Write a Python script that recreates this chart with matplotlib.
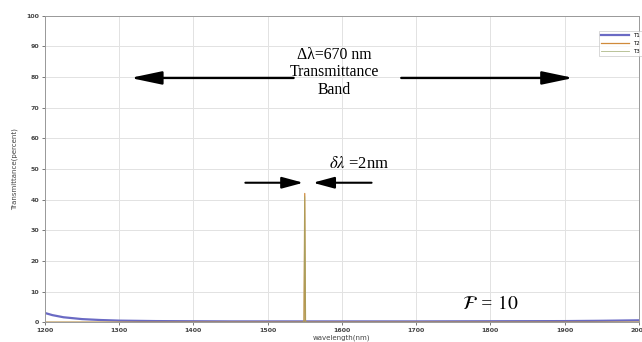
import numpy as np
import matplotlib.pyplot as plt

# transmittance of the filter (percent) vs wavelength (nm)
wl_base = [1200, 1210, 1225, 1250, 1275, 1300, 1350, 1400, 1450, 1500,
           1545, 1600, 1700, 1800, 1900, 1950, 2000]
t_base = [3.0, 2.3, 1.6, 1.0, 0.7, 0.5, 0.35, 0.3, 0.25, 0.25,
          0.25, 0.25, 0.25, 0.3, 0.35, 0.45, 0.6]

wl_peak = [1200, 1548, 1549, 1550, 1551, 1552, 2000]
t_peak_a = [0.0, 0.0, 0.3, 42.0, 0.3, 0.0, 0.0]
t_peak_b = [0.0, 0.0, 0.2, 41.0, 0.2, 0.0, 0.0]

series_names = ["T1", "T2", "T3"]
x_ticks = [1200, 1300, 1400, 1500, 1600, 1700, 1800, 1900, 2000]
y_ticks = [0, 10, 20, 30, 40, 50, 60, 70, 80, 90, 100]

fig = plt.figure(figsize=(6.42, 3.42), dpi=100)
ax = fig.add_axes([0.070, 0.058, 0.925, 0.896])

ax.plot(wl_base, t_base, color="#6a6ac4", lw=1.6, label=series_names[0])
ax.plot(wl_peak, t_peak_a, color="#d08a3a", lw=0.9, label=series_names[1])
ax.plot(wl_peak, t_peak_b, color="#9aa86a", lw=0.6, alpha=0.8, label=series_names[2])

ax.set_xlim(1200, 2000)
ax.set_ylim(0, 100)
ax.set_xticks(x_ticks)
ax.set_yticks(y_ticks)
ax.tick_params(labelsize=4.5, length=2, width=0.5, colors="#444444", pad=2)
for lbl in ax.get_xticklabels() + ax.get_yticklabels():
    lbl.set_fontweight("bold")
ax.grid(True, color="#e2e2e2", lw=0.7)
for sp in ax.spines.values():
    sp.set_color("#999999")
    sp.set_linewidth(0.7)

ax.set_xlabel("wavelength(nm)", fontsize=5, color="#444444", labelpad=1)
ax.set_ylabel("Transmittance(percent)", fontsize=5, color="#444444", labelpad=6)

leg = ax.legend(loc="upper right", bbox_to_anchor=(1.01, 0.96), fontsize=4,
                handlelength=5, frameon=True, fancybox=False, borderpad=0.4,
                labelspacing=0.5)
leg.get_frame().set_edgecolor("#bbbbbb")
leg.get_frame().set_linewidth(0.5)

# band annotation with a two-headed arrow broken by the label
serif = "Liberation Serif"
big_head = "-|>,head_length=1.9,head_width=0.4"
ax.text(1590, 81.5, "\u0394\u03bb=670 nm\nTransmittance\nBand", ha="center",
        va="center", fontsize=11.3, family=serif, linespacing=1.15)
ax.annotate("", xy=(1315, 79.7), xytext=(1535, 79.7),
            arrowprops=dict(arrowstyle=big_head, color="black", lw=1.7,
                            shrinkA=0, shrinkB=0))
ax.annotate("", xy=(1912, 79.7), xytext=(1680, 79.7),
            arrowprops=dict(arrowstyle=big_head, color="black", lw=1.7,
                            shrinkA=0, shrinkB=0))

# linewidth of the peak
plt.rcParams["mathtext.fontset"] = "stix"
small_head = "-|>,head_length=1.3,head_width=0.35"
ax.text(1623, 51.7, r"$\delta\lambda$ =2nm", ha="center", va="center",
        fontsize=12, family=serif)
ax.annotate("", xy=(1548, 45.5), xytext=(1470, 45.5),
            arrowprops=dict(arrowstyle=small_head, color="black", lw=1.5,
                            shrinkA=0, shrinkB=0))
ax.annotate("", xy=(1561, 45.5), xytext=(1640, 45.5),
            arrowprops=dict(arrowstyle=small_head, color="black", lw=1.5,
                            shrinkA=0, shrinkB=0))

ax.text(1800, 5.8, r"$\mathcal{F}$ = $\mathit{10}$", ha="center", va="center",
        fontsize=14, family=serif, style="italic")

fig.savefig("out.png", dpi=100)
